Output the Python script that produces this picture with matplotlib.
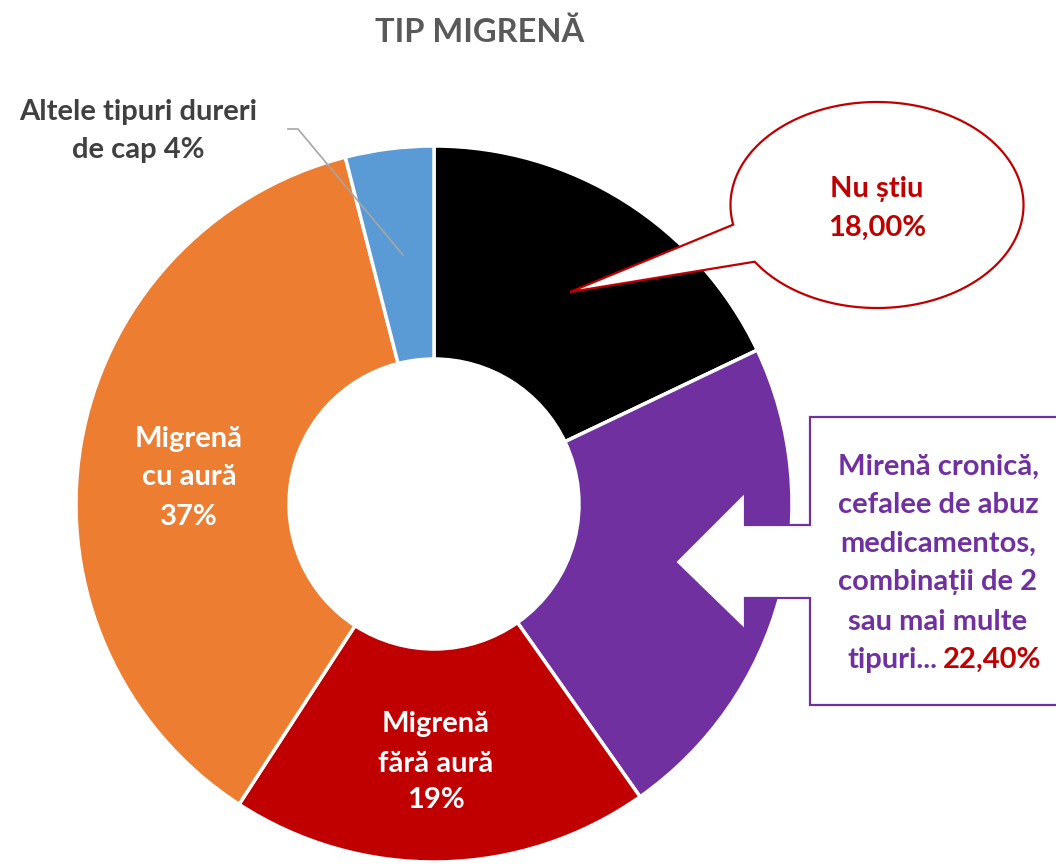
import numpy as np
import matplotlib
matplotlib.use("Agg")
import matplotlib.pyplot as plt
from matplotlib.patches import Polygon

# data
labels = ["Nu știu", "Mirenă cronică", "Migrenă fără aură", "Migrenă cu aură", "Altele tipuri dureri de cap"]
values = [18.0, 22.4, 19.0, 37.0, 4.0]
colors = ["#000000", "#7030A0", "#C00000", "#ED7D31", "#5B9BD5"]

title = "TIP MIGRENĂ"
purple_lines = ["Mirenă cronică,", "cefalee de abuz", "medicamentos,",
                "combinații de 2", "sau mai multe"]

plt.rcParams['font.family'] = ['Lato', 'DejaVu Sans']
FS = 21

W, H = 1056, 864
fig = plt.figure(figsize=(W / 100, H / 100), dpi=100)
ax = fig.add_axes([0, 0, 1, 1])


def Y(y):
    # pixel row (from top) -> data y
    return H - y


cx, cy, R, r_in = 434, 504, 358, 145
ax.pie(values, colors=colors, startangle=90, counterclock=False,
       center=(cx, Y(cy)), radius=R, frame=True,
       wedgeprops=dict(width=R - r_in, edgecolor='white', linewidth=2.5))
ax.set_xlim(0, W)
ax.set_ylim(0, H)
ax.set_aspect('equal')
ax.axis('off')

ax.text(480, Y(42), title, ha='center', va='baseline', fontsize=23.5,
        fontweight='bold', color='#595959')

# labels inside the donut
for txt, y in zip(["Migrenă", "cu aură", "37%"], [447, 485, 525]):
    ax.text(189, Y(y), txt, ha='center', va='baseline', fontsize=FS,
            fontweight='bold', color='white')
for txt, y in zip(["Migrenă", "fără aură", "19%"], [732, 772, 808]):
    ax.text(436, Y(y), txt, ha='center', va='baseline', fontsize=FS,
            fontweight='bold', color='white')

# label with leader line for the small slice
ax.plot([288, 298, 403], [Y(129), Y(129), Y(255)], color='#A6A6A6', lw=1.2)
ax.text(138, Y(120), "Altele tipuri dureri", ha='center', va='baseline',
        fontsize=FS, fontweight='bold', color='#404040')
ax.text(138, Y(158), "de cap 4%", ha='center', va='baseline',
        fontsize=FS, fontweight='bold', color='#404040')

# ellipse callout
ex, ey, ea, eb = 877, 205, 146.5, 103
t = np.radians(np.linspace(169, 146.6 + 360, 300))
pts = [(ex + ea * np.cos(a), Y(ey + eb * np.sin(a))) for a in t]
pts.append((570, Y(292)))
ax.add_patch(Polygon(pts, closed=True, facecolor='white', edgecolor='#C00000', lw=1.6, zorder=5))
ax.text(877, Y(197), "Nu știu", ha='center', va='baseline', fontsize=FS,
        fontweight='bold', color='#C00000', zorder=6)
ax.text(877, Y(236), "18,00%", ha='center', va='baseline', fontsize=FS,
        fontweight='bold', color='#C00000', zorder=6)

# arrow callout
arrow = [(810, 417), (1060, 417), (1060, 705), (810, 705), (810, 598), (745, 598),
         (745, 630), (675, 562), (745, 492), (745, 525), (810, 525)]
ax.add_patch(Polygon([(x, Y(y)) for x, y in arrow], closed=True, facecolor='white',
                     edgecolor='#7030A0', lw=1.6, zorder=5))
for txt, y in zip(purple_lines, [475, 513, 552, 590, 630]):
    ax.text(938, Y(y), txt, ha='center', va='baseline', fontsize=FS,
            fontweight='bold', color='#7030A0', zorder=6)
ax.text(937, Y(668), "tipuri...", ha='right', va='baseline', fontsize=FS,
        fontweight='bold', color='#7030A0', zorder=6)
ax.text(943, Y(668), "22,40%", ha='left', va='baseline', fontsize=FS,
        fontweight='bold', color='#C00000', zorder=6)

fig.savefig("out.png", dpi=100, facecolor='white')
